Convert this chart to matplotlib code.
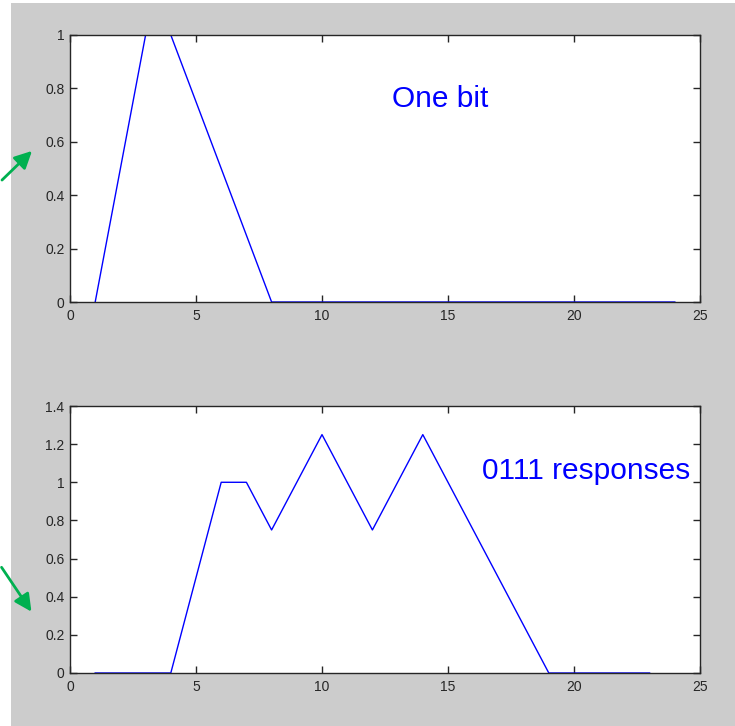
import matplotlib
matplotlib.use('Agg')
import matplotlib.pyplot as plt
from matplotlib.patches import Rectangle, FancyArrowPatch

# data
x_one = list(range(1, 25))
y_one = [0, 0.5, 1, 1, 0.75, 0.5, 0.25, 0] + [0] * 16
x_resp = list(range(1, 24))
y_resp = [0, 0, 0, 0, 0.5, 1, 1, 0.75, 1, 1.25, 1, 0.75, 1, 1.25, 1, 0.75,
          0.5, 0.25, 0, 0, 0, 0, 0]
xticks = [0, 5, 10, 15, 20, 25]
yticks_top = [0, 0.2, 0.4, 0.6, 0.8, 1]
yticks_bot = [0, 0.2, 0.4, 0.6, 0.8, 1, 1.2, 1.4]

W, H = 735, 726
plt.rcParams['font.family'] = ['Liberation Sans', 'DejaVu Sans']
fig = plt.figure(figsize=(W / 100, H / 100), dpi=100, facecolor='white')

# gray figure area (MATLAB window)
fig.patches.append(Rectangle((11 / W, 0), 1, 1 - 3 / H, transform=fig.transFigure,
                             facecolor='#cccccc', edgecolor='none', zorder=-10))

def px_axes(left, top, right, bottom):
    return fig.add_axes([left / W, 1 - bottom / H, (right - left) / W, (bottom - top) / H])

def style(ax, yticks, ymax):
    ax.set_facecolor('white')
    ax.set_xlim(0, 25)
    ax.set_ylim(0, ymax)
    ax.set_xticks(xticks)
    ax.set_yticks(yticks)
    ax.set_yticklabels([f'{v:g}' for v in yticks])
    ax.tick_params(direction='in', length=5, width=1, top=True, right=True,
                   labelsize=10, labelcolor='#262626', color='#262626')
    ax.tick_params(axis='x', pad=5)
    ax.tick_params(axis='y', pad=4)
    for s in ax.spines.values():
        s.set_color('#262626')
        s.set_linewidth(1)

ax1 = px_axes(70, 35, 700, 302)
ax1.plot(x_one, y_one, color='#0000ff', lw=1)
style(ax1, yticks_top, 1)
ax1.text(14.7, 0.76, 'One bit', color='#0000ff', fontsize=21.5, ha='center', va='center')

ax2 = px_axes(70, 406, 700, 673)
ax2.plot(x_resp, y_resp, color='#0000ff', lw=1)
style(ax2, yticks_bot, 1.4)
ax2.text(20.5, 1.06, '0111 responses', color='#0000ff', fontsize=21.5, ha='center', va='center')

# green arrows on the left
for (x0, y0), (x1, y1) in [((0, 182), (34, 149)), ((0, 565), (33, 614))]:
    arr = FancyArrowPatch((x0 / W, 1 - y0 / H), (x1 / W, 1 - y1 / H),
                          transform=fig.transFigure, arrowstyle='-|>',
                          mutation_scale=26, color='#00b050', lw=2)
    fig.patches.append(arr)

fig.savefig('out.png', dpi=100, facecolor=fig.get_facecolor())
